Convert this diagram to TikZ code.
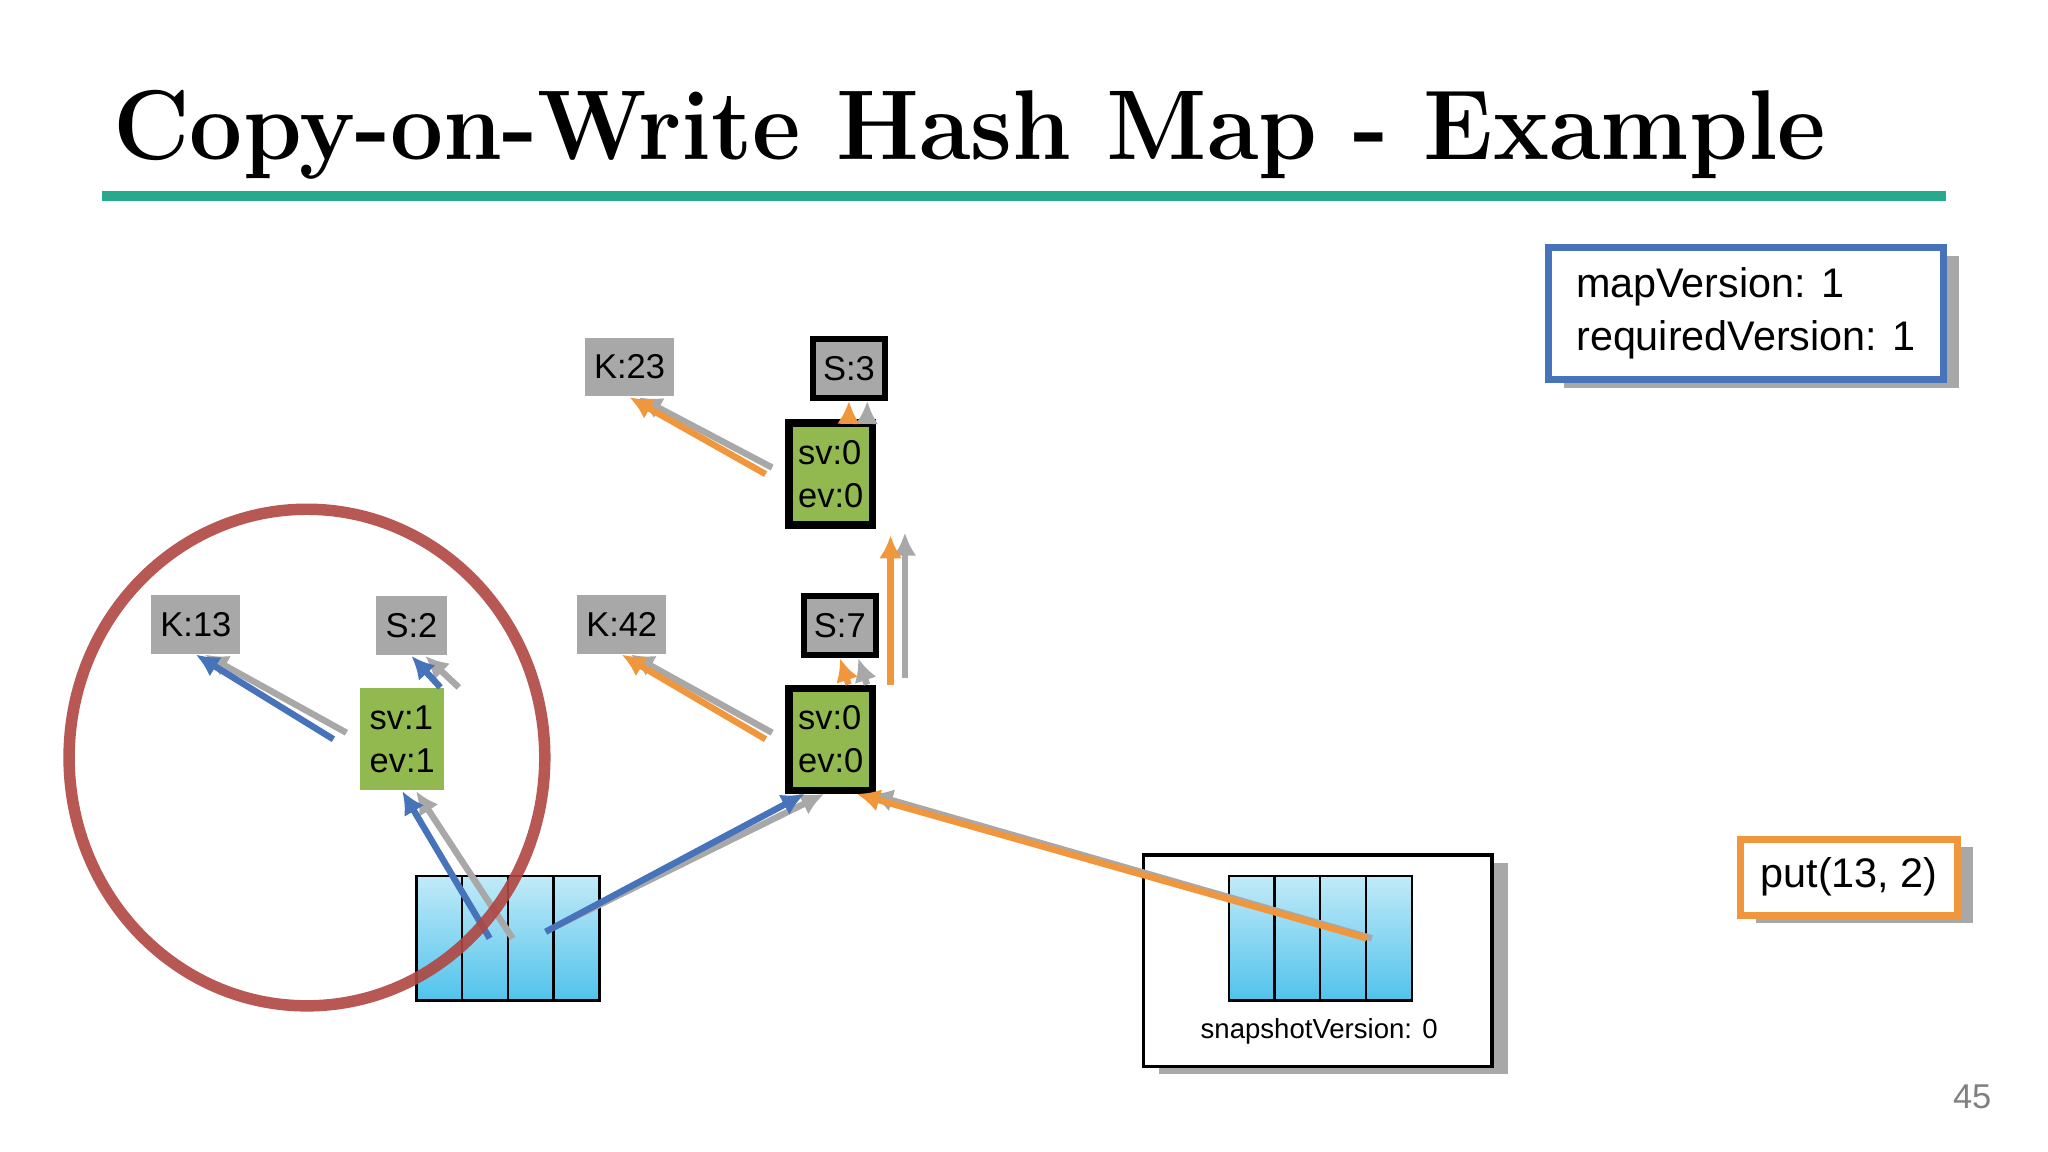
\documentclass[tikz,border=0pt]{standalone}
\usepackage{fontspec}
\setmainfont{Liberation Sans}
\newfontfamily\titlefont{Latin Modern Roman}
\usetikzlibrary{positioning,shadows,arrows.meta}
\definecolor{cowteal}{RGB}{40,168,140}
\definecolor{cowblue}{RGB}{70,115,185}
\definecolor{coworange}{RGB}{240,150,60}
\definecolor{cowgreen}{RGB}{145,185,80}
\definecolor{cowgray}{RGB}{168,168,168}
\definecolor{cowcyan}{RGB}{80,195,235}
\definecolor{cowred}{RGB}{175,70,65}

\begin{document}
\begin{tikzpicture}[x=0.01cm,y=-0.01cm]
\tikzset{KeyStyle/.style = {fill=cowgray, minimum width=0.68cm, minimum height=0.45cm, inner sep=0pt, font=\fontsize{7.5}{9}\selectfont}}
\tikzset{SnapStyle/.style = {KeyStyle, draw=black, line width=1.4pt, minimum width=0.55cm}}
\tikzset{VerStyle/.style = {fill=cowgreen, minimum width=0.64cm, minimum height=0.78cm, inner sep=0pt, align=left, font=\fontsize{7.5}{9.5}\selectfont}}
\tikzset{ShadowStyle/.style = {copy shadow={shadow xshift=0.12cm, shadow yshift=-0.06cm, fill=cowgray, draw=none}}}
\tikzset{CellStyle/.style = {draw=black, line width=0.5pt, top color=cowcyan!35, bottom color=cowcyan, minimum width=0.35cm, minimum height=0.95cm, inner sep=0pt}}
\tikzset{BlueArrow/.style = {cowblue, line width=1.4pt, -{Latex[length=5pt,width=5pt]}}}
\tikzset{OrangeArrow/.style = {coworange, line width=1.4pt, -{Latex[length=5pt,width=5pt]}}}
\tikzset{GrayArrow/.style = {cowgray, line width=1.4pt, -{Latex[length=5pt,width=5pt]}}}
\useasboundingbox (0,0) rectangle (1568,882);
% title
\node[anchor=base west, inner sep=0pt, font=\titlefont\bfseries\fontsize{18}{20}\selectfont, xscale=1.14, yscale=1.2] (title) at (86,122) {Copy-on-Write Hash Map - Example};
\draw[cowteal, line width=2pt] (78,150) -- (1490,150);
% version boxes
\node[ShadowStyle, draw=cowblue, line width=1.5pt, fill=white, minimum width=3.02cm, minimum height=1.01cm, align=left, anchor=north west, inner sep=2pt, font=\fontsize{9}{11.5}\selectfont] (ver) at (1183,187) {mapVersion: 1\\requiredVersion: 1};
\node[ShadowStyle, draw=coworange, line width=1.5pt, fill=white, minimum width=1.66cm, minimum height=0.58cm, anchor=north west, font=\fontsize{9}{11.5}\selectfont] (put) at (1330,640) {put(13, 2)};
\node[ShadowStyle, draw=black, line width=0.8pt, fill=white, minimum width=2.67cm, minimum height=1.62cm, anchor=north west] (snap) at (874,653) {};
\node[font=\fontsize{6}{8}\selectfont] (snaplabel) at (1010,790) {snapshotVersion: 0};
% arrays
\foreach \i in {0,...,3} {
  \node[CellStyle, anchor=north west] (a\i) at (318+35*\i,670) {};
  \node[CellStyle, anchor=north west] (b\i) at (940+35*\i,670) {};
}
% entries
\node[KeyStyle] (k13) at (150,478) {K:13};
\node[KeyStyle, minimum width=0.54cm] (s2) at (315,479) {S:2};
\node[VerStyle] (v1) at (308,566) {sv:1\\ev:1};
\node[KeyStyle] (k42) at (476,478) {K:42};
\node[SnapStyle] (s7) at (643,479) {S:7};
\node[VerStyle, draw=black, line width=1.6pt] (v7) at (636,566) {sv:0\\ev:0};
\node[KeyStyle] (k23) at (482,281) {K:23};
\node[SnapStyle] (s3) at (650,282) {S:3};
\node[VerStyle, draw=black, line width=1.6pt] (v3) at (636,363) {sv:0\\ev:0};
% arrows
\draw[GrayArrow] ([xshift=6pt]a1.center) -- ([xshift=3pt]v1.south);
\draw[BlueArrow] ([xshift=1pt]a1.center) -- (v1.south);
\draw[GrayArrow] ([xshift=-0.1cm,yshift=0.05cm]v1.west) -- ([xshift=2pt]k13.south);
\draw[BlueArrow] ([xshift=-0.2cm]v1.west) -- (k13.south);
\draw[GrayArrow] ([xshift=3pt]v1.north east) -- ([xshift=3pt]s2.south);
\draw[BlueArrow] ([xshift=-1pt]v1.north east) -- (s2.south);
\draw[GrayArrow] ([xshift=1pt,yshift=3pt]a2.east) -- ([xshift=-0.05cm]v7.south);
\draw[BlueArrow] ([xshift=-2pt,yshift=0.05cm]a2.east) -- ([xshift=-0.2cm]v7.south);
\draw[GrayArrow] ([xshift=0.22cm]b2.center) -- ([xshift=0.3cm]v7.south);
\draw[OrangeArrow] ([xshift=0.18cm]b2.center) -- ([xshift=0.2cm]v7.south);
\draw[GrayArrow] ([xshift=-0.1cm,yshift=0.05cm]v7.west) -- ([xshift=2pt]k42.south);
\draw[OrangeArrow] ([xshift=-0.15cm]v7.west) -- (k42.south);
\draw[GrayArrow] ([xshift=-2pt]v7.north east) -- ([xshift=4pt]s7.south);
\draw[OrangeArrow] ([xshift=-6pt]v7.north east) -- (s7.south);
\draw[GrayArrow] ([xshift=0.22cm,yshift=0.05cm]v7.north east) -- ([xshift=0.22cm,yshift=-0.03cm]v3.south east);
\draw[OrangeArrow] ([xshift=0.11cm]v7.north east) -- ([xshift=0.11cm,yshift=-0.05cm]v3.south east);
\draw[GrayArrow] ([xshift=-0.1cm,yshift=0.05cm]v3.west) -- ([xshift=2pt]k23.south);
\draw[OrangeArrow] ([xshift=-0.15cm]v3.west) -- (k23.south);
\draw[GrayArrow] ([xshift=-2pt]v3.north east) -- ([xshift=4pt]s3.south);
\draw[OrangeArrow] ([xshift=-6pt]v3.north east) -- (s3.south);
% circle
\draw[cowred, line width=2.5pt, opacity=0.9] (235,580) ellipse (1.82cm and 1.9cm);
% page number
\node[text=gray, font=\fontsize{7.5}{9}\selectfont] (page) at (1510,840) {45};
\end{tikzpicture}
\end{document}
